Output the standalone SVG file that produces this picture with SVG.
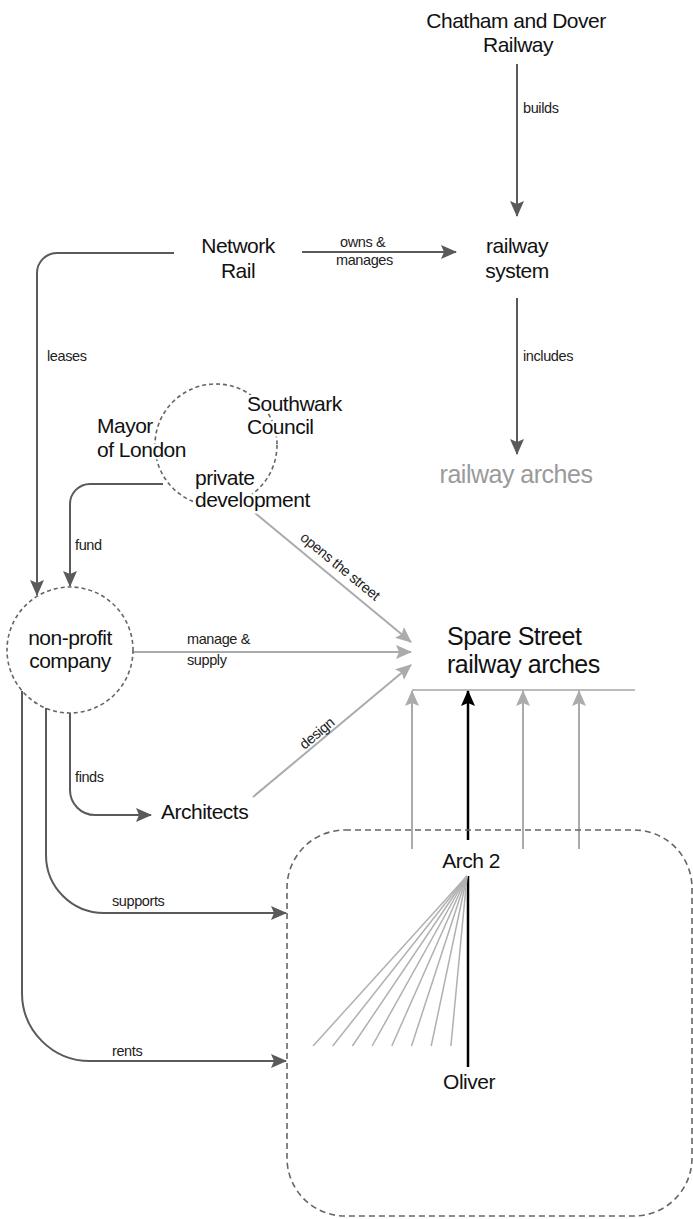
<svg xmlns="http://www.w3.org/2000/svg" width="693" height="1219" viewBox="0 0 693 1219">
<style>
text{font-family:"Liberation Sans",Arial,sans-serif}
.n{font-size:21px;letter-spacing:-0.5px;fill:#111}
.big{font-size:25px;letter-spacing:-0.5px;fill:#111}
.l{font-size:14.5px;letter-spacing:-0.4px;fill:#222}
.grey{fill:#9a9a9a}
.halo{stroke:#fff;stroke-width:5;stroke-linejoin:round;paint-order:stroke}
.c{text-anchor:middle}
.dk{fill:none;stroke:#5a5a5a;stroke-width:2}
.gr{fill:none;stroke:#ababab;stroke-width:2}
.bk{fill:none;stroke:#000;stroke-width:2.5}
.fan{fill:none;stroke:#b0b0b0;stroke-width:1.5}
.dash{fill:none;stroke:#666;stroke-width:1.6;stroke-dasharray:4 3}
.dashr{fill:none;stroke:#666;stroke-width:1.6;stroke-dasharray:6 4}
</style>
<defs>
<marker id="ad" viewBox="0 0 16 14" refX="15" refY="7" markerWidth="16" markerHeight="14" markerUnits="userSpaceOnUse" orient="auto"><path d="M0,0 L16,7 L0,14 L3,7 z" fill="#5a5a5a"/></marker>
<marker id="ag" viewBox="0 0 16 14" refX="15" refY="7" markerWidth="16" markerHeight="14" markerUnits="userSpaceOnUse" orient="auto"><path d="M0,0 L16,7 L0,14 L3,7 z" fill="#ababab"/></marker>
<marker id="ab" viewBox="0 0 16 14" refX="15" refY="7" markerWidth="16" markerHeight="14" markerUnits="userSpaceOnUse" orient="auto"><path d="M0,0 L16,7 L0,14 L3,7 z" fill="#000"/></marker>
</defs>

<g id="connectors">
<path class="dk" d="M517,64 V216" marker-end="url(#ad)"/>
<text class="l" x="523" y="113">builds</text>
<path class="dk" d="M302,252 H456" marker-end="url(#ad)"/>
<text class="l" x="340" y="247">owns &amp;</text>
<text class="l" x="336" y="265">manages</text>
<path class="dk" d="M517,298 V454" marker-end="url(#ad)"/>
<text class="l" x="523" y="361">includes</text>
<path class="dk" d="M174,253 H57 A20,20 0 0 0 37,273 V595" marker-end="url(#ad)"/>
<text class="l" x="47" y="361">leases</text>
<path class="dk" d="M163,484 H90 A20,20 0 0 0 70,504 V586" marker-end="url(#ad)"/>
<text class="l" x="75" y="550">fund</text>
<path class="dk" d="M70,713 V790 A25,25 0 0 0 95,815 H151" marker-end="url(#ad)"/>
<text class="l" x="75" y="782">finds</text>
<path class="dk" d="M46,708 V855 A58,58 0 0 0 104,913 H286" marker-end="url(#ad)"/>
<text class="l" x="112" y="906">supports</text>
<path class="dk" d="M22,691 V993 A68,68 0 0 0 90,1061 H286" marker-end="url(#ad)"/>
<text class="l" x="112" y="1056">rents</text>
<path class="gr" d="M255,513 L411,642" marker-end="url(#ag)"/>
<text class="l" transform="translate(337,570) rotate(39.4)" text-anchor="middle">opens the street</text>
<path class="gr" d="M133,652 H411" marker-end="url(#ag)"/>
<text class="l" x="187" y="644">manage &amp;</text>
<text class="l" x="187" y="665">supply</text>
<path class="gr" d="M253,797 L411,665" marker-end="url(#ag)"/>
<text class="l" transform="translate(320,737) rotate(-39.9)" text-anchor="middle">design</text>
<path class="gr" d="M412,849 V691" marker-end="url(#ag)"/>
<path class="gr" d="M523,849 V691" marker-end="url(#ag)"/>
<path class="gr" d="M579,849 V691" marker-end="url(#ag)"/>
<path class="bk" d="M468,840 V691" marker-end="url(#ab)"/>
<path class="bk" d="M468,876 V1067"/>
<g id="fan">
<path class="fan" d="M467,876 L313,1046"/>
<path class="fan" d="M467,876 L332.7,1046"/>
<path class="fan" d="M467,876 L352.4,1046"/>
<path class="fan" d="M467,876 L372.1,1046"/>
<path class="fan" d="M467,876 L391.8,1046"/>
<path class="fan" d="M467,876 L411.5,1046"/>
<path class="fan" d="M467,876 L431.2,1046"/>
<path class="fan" d="M467,876 L450.9,1046"/>
</g>
</g>

<g id="chatham"><text class="n c" x="516" y="28">Chatham and Dover</text><text class="n c" x="518" y="52">Railway</text></g>
<g id="network-rail"><text class="n c" x="238" y="253">Network</text><text class="n c" x="238" y="278">Rail</text></g>
<g id="railway-system"><text class="n c" x="517" y="253">railway</text><text class="n c" x="517" y="278">system</text></g>
<g id="railway-arches"><text class="big grey c" x="516" y="483">railway arches</text></g>
<g id="funders">
<circle class="dash" cx="216" cy="445" r="61"/>
<text class="n halo" x="97" y="433">Mayor</text>
<text class="n halo" x="97" y="457">of London</text>
<text class="n halo" x="247" y="411">Southwark</text>
<text class="n halo" x="247" y="434">Council</text>
<text class="n halo" x="195" y="485">private</text>
<text class="n halo" x="195" y="507">development</text>
</g>
<g id="non-profit">
<circle class="dash" cx="70" cy="650" r="63"/>
<text class="n c" x="70" y="645">non-profit</text>
<text class="n c" x="70" y="668">company</text>
</g>
<g id="architects"><text class="n" x="161" y="819">Architects</text></g>
<g id="spare-street">
<text class="big" x="447" y="645">Spare Street</text>
<text class="big" x="447" y="673">railway arches</text>
<line x1="412" y1="690" x2="635" y2="690" stroke="#777" stroke-width="1"/>
</g>
<g id="arches-box">
<rect class="dashr" x="287" y="830" width="405" height="386" rx="58" ry="58"/>
</g>
<g id="arch2"><text class="n c" x="471" y="868">Arch 2</text></g>
<g id="oliver"><text class="n c" x="469" y="1089">Oliver</text></g>
</svg>
